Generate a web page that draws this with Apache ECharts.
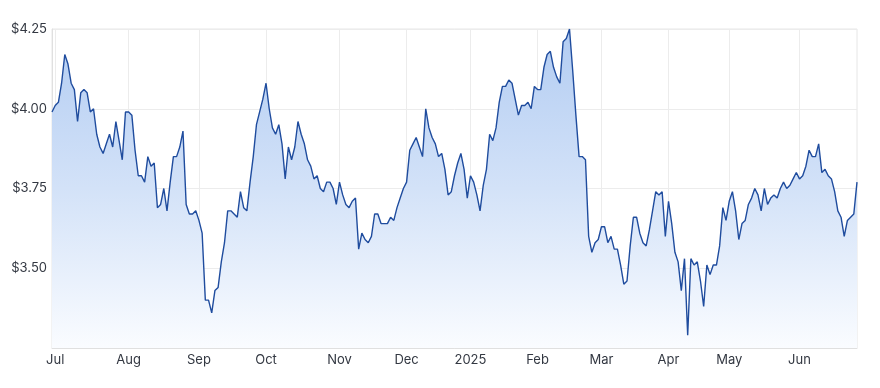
<!DOCTYPE html>
<html>
<head>
<meta charset="utf-8">
<script src="https://cdn.jsdelivr.net/npm/echarts@6/dist/echarts.min.js"></script>
<style>
html,body{margin:0;padding:0;background:#fff;}
#chart{width:880px;height:388px;}
</style>
</head>
<body>
<div id="chart"></div>
<script>
// Daily closing prices (trading days, 28 Jun 2024 – 27 Jun 2025)
const prices = [
3.99,4.01,4.02,4.08,4.17,4.14,4.08,4.06,3.96,4.05,
4.06,4.05,3.99,4.00,3.92,3.88,3.86,3.89,3.92,3.88,
3.96,3.90,3.84,3.99,3.99,3.98,3.87,3.79,3.79,3.77,
3.85,3.82,3.83,3.69,3.70,3.75,3.68,3.77,3.85,3.85,
3.88,3.93,3.70,3.67,3.67,3.68,3.65,3.61,3.40,3.40,
3.36,3.43,3.44,3.52,3.58,3.68,3.68,3.67,3.66,3.74,
3.69,3.68,3.77,3.85,3.95,3.99,4.03,4.08,4.00,3.94,
3.92,3.95,3.89,3.78,3.88,3.84,3.88,3.96,3.92,3.89,
3.84,3.82,3.78,3.79,3.75,3.74,3.77,3.77,3.75,3.70,
3.77,3.73,3.70,3.69,3.71,3.72,3.56,3.61,3.59,3.58,
3.60,3.67,3.67,3.64,3.64,3.64,3.66,3.65,3.69,3.72,
3.75,3.77,3.87,3.89,3.91,3.88,3.85,4.00,3.94,3.91,
3.89,3.85,3.86,3.81,3.73,3.74,3.79,3.83,3.86,3.81,
3.72,3.79,3.77,3.73,3.68,3.76,3.81,3.92,3.90,3.94,
4.02,4.07,4.07,4.09,4.08,4.03,3.98,4.01,4.01,4.02,
4.00,4.07,4.06,4.06,4.13,4.17,4.18,4.13,4.10,4.08,
4.21,4.22,4.25,4.12,3.98,3.85,3.85,3.84,3.60,3.55,
3.58,3.59,3.63,3.63,3.58,3.60,3.56,3.56,3.51,3.45,
3.46,3.57,3.66,3.66,3.61,3.58,3.57,3.62,3.68,3.74,
3.73,3.74,3.60,3.71,3.64,3.55,3.52,3.43,3.53,3.29,
3.53,3.51,3.52,3.46,3.38,3.51,3.48,3.51,3.51,3.57,
3.69,3.65,3.71,3.74,3.68,3.59,3.64,3.65,3.70,3.72,
3.75,3.73,3.68,3.75,3.70,3.72,3.73,3.72,3.75,3.77,
3.75,3.76,3.78,3.80,3.78,3.79,3.82,3.87,3.85,3.85,
3.89,3.80,3.81,3.79,3.78,3.74,3.68,3.66,3.60,3.65,
3.66,3.67,3.77
];
// Tick labels and the trading-day index where each month starts
const monthLabels = ['Jul','Aug','Sep','Oct','Nov','Dec','2025','Feb','Mar','Apr','May','Jun'];
const monthIdx = [1,24,46,67,90,111,131,152,172,193,212,234];
const yTicks = [3.25, 3.50, 3.75, 4.00, 4.25];

const cats = prices.map((_, i) => String(i));
const labelAt = {};
monthIdx.forEach((ix, k) => { labelAt[ix] = monthLabels[k]; });

const chart = echarts.init(document.getElementById('chart'), null, {renderer: 'canvas'});
chart.setOption({
  animation: false,
  backgroundColor: '#ffffff',
  grid: {left: 52, right: 23, top: 29, bottom: 40, show: true, borderColor: '#e6e6e6', borderWidth: 1},
  xAxis: {
    type: 'category',
    data: cats,
    boundaryGap: false,
    axisLine: {show: true, lineStyle: {color: '#e0e0e0'}},
    axisTick: {show: false},
    axisLabel: {
      interval: (i) => labelAt[i] !== undefined,
      formatter: (v, i) => labelAt[i] || '',
      color: '#333842', fontFamily: 'Inter', fontSize: 13, margin: 6
    },
    splitLine: {show: true, interval: (i) => labelAt[i] !== undefined, lineStyle: {color: '#ececec', width: 1}}
  },
  yAxis: {
    type: 'value',
    min: yTicks[0], max: yTicks[yTicks.length - 1], interval: 0.25,
    axisLine: {show: true, lineStyle: {color: '#e0e0e0'}},
    axisTick: {show: false},
    axisLabel: {
      showMinLabel: false,
      formatter: (v) => '$' + v.toFixed(2),
      color: '#333842', fontFamily: 'Inter', fontSize: 13, margin: 5
    },
    splitLine: {show: true, lineStyle: {color: '#ececec', width: 1}}
  },
  series: [{
    type: 'line',
    data: prices,
    symbol: 'none',
    smooth: false,
    lineStyle: {color: '#1f4c9e', width: 1.4},
    areaStyle: {
      opacity: 1,
      color: new echarts.graphic.LinearGradient(0, 0, 0, 1, [
        {offset: 0, color: '#b2ccf2'},
        {offset: 0.5, color: '#d3e2f8'},
        {offset: 1, color: '#fafcff'}
      ])
    }
  }]
});
</script>
</body>
</html>
